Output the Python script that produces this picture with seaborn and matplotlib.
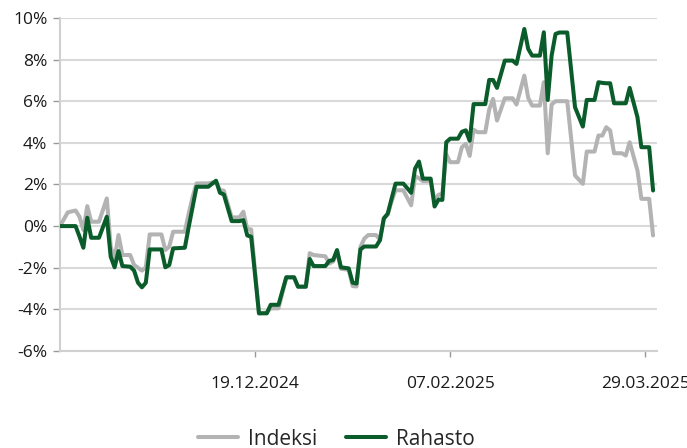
import numpy as np
import pandas as pd
import matplotlib
matplotlib.use("Agg")
import matplotlib.pyplot as plt
import matplotlib.dates as mdates
import matplotlib.ticker as mticker
import seaborn as sns

dates = [
    "2024-10-30", "2024-11-01", "2024-11-03", "2024-11-04", "2024-11-05", "2024-11-06",
    "2024-11-07", "2024-11-09", "2024-11-11", "2024-11-12", "2024-11-13", "2024-11-14",
    "2024-11-15", "2024-11-17", "2024-11-18", "2024-11-19", "2024-11-20", "2024-11-21",
    "2024-11-22", "2024-11-25", "2024-11-26", "2024-11-27", "2024-11-28", "2024-12-01",
    "2024-12-02", "2024-12-03", "2024-12-04", "2024-12-07", "2024-12-09", "2024-12-10",
    "2024-12-11", "2024-12-13", "2024-12-15", "2024-12-16", "2024-12-17", "2024-12-18",
    "2024-12-20", "2024-12-22", "2024-12-23", "2024-12-25", "2024-12-27", "2024-12-29",
    "2024-12-30", "2025-01-01", "2025-01-02", "2025-01-03", "2025-01-06", "2025-01-07",
    "2025-01-08", "2025-01-09", "2025-01-10", "2025-01-12", "2025-01-13", "2025-01-14",
    "2025-01-15", "2025-01-16", "2025-01-17", "2025-01-19", "2025-01-20", "2025-01-21",
    "2025-01-22", "2025-01-23", "2025-01-24", "2025-01-26", "2025-01-28", "2025-01-29",
    "2025-01-30", "2025-01-31", "2025-02-02", "2025-02-03", "2025-02-04", "2025-02-05",
    "2025-02-06", "2025-02-07", "2025-02-09", "2025-02-10", "2025-02-11", "2025-02-12",
    "2025-02-13", "2025-02-14", "2025-02-16", "2025-02-17", "2025-02-18", "2025-02-19",
    "2025-02-21", "2025-02-23", "2025-02-24", "2025-02-26", "2025-02-27", "2025-02-28",
    "2025-03-02", "2025-03-03", "2025-03-04", "2025-03-05", "2025-03-06", "2025-03-07",
    "2025-03-09", "2025-03-11", "2025-03-13", "2025-03-14", "2025-03-16", "2025-03-17",
    "2025-03-18", "2025-03-19", "2025-03-20", "2025-03-21", "2025-03-23", "2025-03-24",
    "2025-03-25", "2025-03-27", "2025-03-28", "2025-03-30", "2025-03-31",
]

rahasto = [
    0.00, 0.00, 0.00, -0.50, -1.04, 0.40,
    -0.56, -0.56, 0.45, -1.47, -1.98, -1.20,
    -1.92, -1.95, -2.14, -2.72, -2.94, -2.72,
    -1.12, -1.12, -1.98, -1.87, -1.07, -1.04,
    -0.03, 0.93, 1.89, 1.89, 2.18, 1.60,
    1.52, 0.24, 0.24, 0.29, -0.45, -0.51,
    -4.19, -4.19, -3.78, -3.78, -2.46, -2.46,
    -2.91, -2.91, -1.58, -1.92, -1.92, -1.67,
    -1.63, -1.15, -1.98, -2.03, -2.72, -2.76,
    -1.12, -0.98, -0.98, -0.98, -0.68, 0.36,
    0.60, 1.33, 2.04, 2.04, 1.60, 2.76,
    3.10, 2.28, 2.28, 0.94, 1.27, 1.26,
    4.03, 4.20, 4.20, 4.53, 4.60, 4.10,
    5.86, 5.86, 5.86, 7.02, 7.02, 6.64,
    7.95, 7.95, 7.79, 9.47, 8.51, 8.19,
    8.19, 9.31, 6.06, 8.19, 9.23, 9.30,
    9.30, 5.71, 4.78, 6.06, 6.06, 6.91,
    6.88, 6.86, 6.86, 5.90, 5.90, 5.90,
    6.64, 5.23, 3.79, 3.79, 1.71,
]

indeksi = [
    0.00, 0.66, 0.75, 0.45, -0.19, 0.96,
    0.21, 0.21, 1.33, -0.99, -1.55, -0.43,
    -1.39, -1.39, -1.87, -2.00, -2.14, -1.98,
    -0.40, -0.40, -1.15, -0.99, -0.27, -0.27,
    0.61, 1.41, 2.05, 2.05, 2.13, 1.73,
    1.70, 0.42, 0.42, 0.69, -0.14, -0.16,
    -4.19, -4.15, -3.95, -3.95, -2.46, -2.46,
    -2.91, -2.91, -1.30, -1.39, -1.45, -1.80,
    -1.70, -1.20, -2.05, -2.10, -2.88, -2.90,
    -1.00, -0.60, -0.43, -0.43, -0.65, 0.40,
    0.55, 1.20, 1.72, 1.72, 1.00, 2.40,
    2.30, 2.16, 2.16, 1.24, 1.50, 1.56,
    3.45, 3.07, 3.07, 3.79, 3.95, 3.37,
    4.63, 4.51, 4.51, 5.60, 6.11, 5.07,
    6.14, 6.14, 5.84, 7.23, 6.16, 5.79,
    5.79, 6.91, 3.50, 5.84, 6.00, 6.00,
    6.00, 2.43, 2.03, 3.58, 3.58, 4.35,
    4.35, 4.75, 4.59, 3.50, 3.50, 3.39,
    4.03, 2.67, 1.31, 1.31, -0.45,
]

series_names = ["Indeksi", "Rahasto"]
series_colors = ["#B3B3B3", "#0A5C2B"]
x_tick_dates = ["2024-12-19", "2025-02-07", "2025-03-29"]
y_ticks = [-6, -4, -2, 0, 2, 4, 6, 8, 10]

df = pd.DataFrame({
    "date": pd.to_datetime(dates * 2),
    "value": indeksi + rahasto,
    "series": [series_names[0]] * len(dates) + [series_names[1]] * len(dates),
})

sns.set_theme(style="white")
plt.rcParams["font.family"] = ["Open Sans", "DejaVu Sans"]

fig = plt.figure(figsize=(6.87, 4.48), dpi=100)
ax = fig.add_axes([0.0873, 0.2165, 0.869, 0.7435])

for i, name in enumerate(series_names):
    sns.lineplot(data=df[df["series"] == name], x="date", y="value",
                 color=series_colors[i], linewidth=2.9, ax=ax, label=name,
                 zorder=3 + i)

ax.set_ylim(-6, 10)
ax.set_xlim(pd.Timestamp("2024-10-30"), pd.Timestamp("2025-04-01"))
ax.set_yticks(y_ticks)
ax.yaxis.set_major_formatter(mticker.FuncFormatter(lambda v, p: f"{v:.0f}%"))
ax.set_xticks(pd.to_datetime(x_tick_dates))
ax.xaxis.set_major_formatter(mdates.DateFormatter("%d.%m.%Y"))
ax.grid(axis="y", color="#D9D9D9", linewidth=1.5, zorder=0)
ax.grid(axis="x", visible=False)
ax.set_xlabel("")
ax.set_ylabel("")
for s in ["top", "right"]:
    ax.spines[s].set_visible(False)
for s in ["left", "bottom"]:
    ax.spines[s].set_color("#D0D0D0")
    ax.spines[s].set_linewidth(1.5)
ax.tick_params(axis="y", length=5, width=1, color="#999999", pad=4,
               labelsize=12.5, labelcolor="#1a1a1a", left=True)
ax.tick_params(axis="x", length=4, width=1, color="#999999", pad=14,
               labelsize=12.5, labelcolor="#1a1a1a", bottom=True)

ax.get_legend().remove()
handles, labels = ax.get_legend_handles_labels()
fig.legend(handles, labels, loc="center", bbox_to_anchor=(0.49, 0.02),
           ncol=2, frameon=False, fontsize=15, handlelength=1.9,
           handletextpad=0.5, columnspacing=1.4)

fig.savefig("out.png", dpi=100)
